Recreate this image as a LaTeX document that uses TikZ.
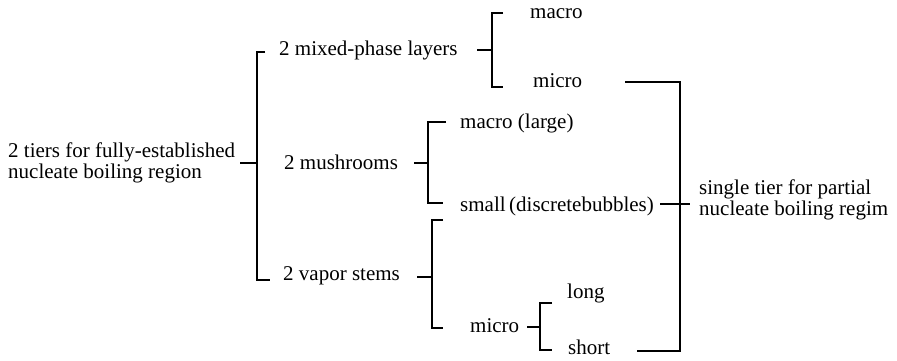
\documentclass[tikz,border=0pt]{standalone}
\usepackage{fontspec}
\setmainfont{Liberation Serif}
\begin{document}
\begin{tikzpicture}[x=1pt,y=-1pt,
  lbl/.style={inner sep=0pt,anchor=west,font=\fontsize{21}{21.5}\selectfont},
  br/.style={line width=1.7pt,line join=miter}]
\useasboundingbox (0,0) rectangle (897,361);
% texts
\node[lbl,align=left] (root) at (8,163) {2 tiers for fully-established\\nucleate boiling region};
\node[lbl] (mix) at (279,50) {2 mixed-phase layers};
\node[lbl] (mush) at (284,162) {2 mushrooms};
\node[lbl] (vap) at (283,276) {2 vapor stems};
\node[lbl] (mmacro) at (530,14) {macro};
\node[lbl] (mmicro) at (533,81) {micro};
\node[lbl] (large) at (460,123) {macro (large)};
\node[lbl] (small) at (460,206) {small\,(discretebubbles)};
\node[lbl] (vmicro) at (470,326) {micro};
\node[lbl] (long) at (567,293) {long};
\node[lbl] (short) at (568,347) {short};
\node[lbl,align=left] (single) at (699,200) {single tier for partial\\nucleate boiling regim};
% main bracket
\draw[br] (240,163) -- (257,163);
\draw[br] (265,52) -- (257,52) -- (257,280) -- (270,280);
% mixed-phase bracket
\draw[br] (477,50) -- (492,50);
\draw[br] (503,13) -- (492,13) -- (492,87) -- (503,87);
% mushrooms bracket
\draw[br] (414,163) -- (428,163);
\draw[br] (446,122) -- (428,122) -- (428,203) -- (443,203);
% vapor stems bracket
\draw[br] (417,277) -- (432,277);
\draw[br] (443,220) -- (432,220) -- (432,328) -- (443,328);
% micro bracket
\draw[br] (527,327) -- (540,327);
\draw[br] (552,303) -- (540,303) -- (540,350) -- (552,350);
% right collector
\draw[br] (625,82) -- (680,82) -- (680,351) -- (637,351);
\draw[br] (660,204) -- (690,204);
\end{tikzpicture}
\end{document}
